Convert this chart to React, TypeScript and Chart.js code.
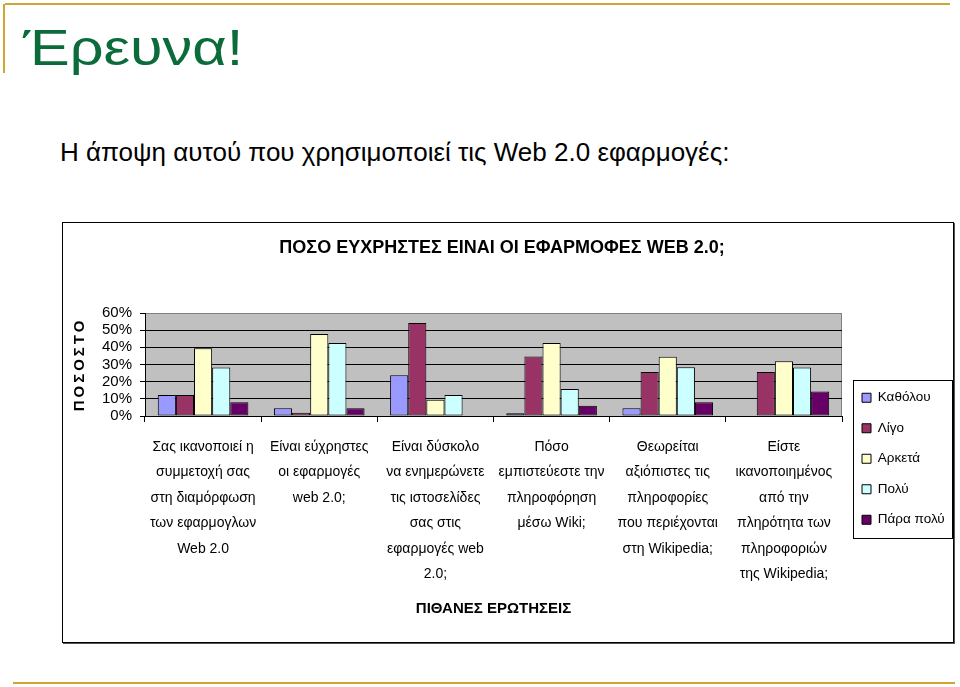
import React, { useEffect, useRef } from 'react';
import { Chart, registerables, LinearScale } from 'chart.js';

Chart.register(...registerables);

class SpacedLinearScale extends LinearScale {
  static id = 'spacedLinear';
  static defaults = LinearScale.defaults;
  drawTitle() {
    const ctx: any = this.ctx;
    ctx.save();
    ctx.letterSpacing = '3px';
    // @ts-ignore
    super.drawTitle();
    ctx.restore();
  }
}
Chart.register(SpacedLinearScale as any);

// ---- data ----
const categories: string[][] = [
  ['Σας ικανοποιεί η', 'συμμετοχή σας', 'στη διαμόρφωση', 'των εφαρμογλων', 'Web 2.0'],
  ['Είναι εύχρηστες', 'οι εφαρμογές', 'web 2.0;'],
  ['Είναι δύσκολο', 'να ενημερώνετε', 'τις ιστοσελίδες', 'σας στις', 'εφαρμογές web', '2.0;'],
  ['Πόσο', 'εμπιστεύεστε την', 'πληροφόρηση', 'μέσω Wiki;'],
  ['Θεωρείται', 'αξιόπιστες τις', 'πληροφορίες', 'που περιέχονται', 'στη Wikipedia;'],
  ['Είστε', 'ικανοποιημένος', 'από την', 'πληρότητα των', 'πληροφοριών', 'της Wikipedia;'],
];
const seriesNames = ['Καθόλου', 'Λίγο', 'Αρκετά', 'Πολύ', 'Πάρα πολύ'];
const katholou = [12.3, 4.5, 23.8, 1.6, 4.5, 0];
const ligo = [12.3, 1.9, 54.2, 34.7, 25.7, 25.7];
const arketa = [39.5, 47.7, 9.4, 42.5, 34.5, 31.9];
const poly = [28.2, 42.5, 12.3, 15.8, 28.4, 28.2];
const paraPoly = [8.0, 4.5, 0, 6.0, 8.0, 14.2];
const seriesColors = ['#9999FF', '#993366', '#FFFFCC', '#CCFFFF', '#660066'];
const yTicks = [0, 10, 20, 30, 40, 50, 60];

const chartTitle = 'ΠΟΣΟ ΕΥΧΡΗΣΤΕΣ ΕΙΝΑΙ ΟΙ ΕΦΑΡΜΟΦΕΣ WEB 2.0;';
const yTitle = 'ΠΟΣΟΣΤΟ';
const xTitle = 'ΠΙΘΑΝΕΣ ΕΡΩΤΗΣΕΙΣ';

const SANS = "'Liberation Sans', Arial, sans-serif";

const CW = 892;
const CH = 421;

function ChartCanvas() {
  const ref = useRef<HTMLCanvasElement | null>(null);
  useEffect(() => {
    if (!ref.current) return;
    const values = [katholou, ligo, arketa, poly, paraPoly];
    const legPad = 17;

    const plotBg = {
      id: 'plotBg',
      beforeDraw(chart: any) {
        const { ctx, chartArea: a } = chart;
        ctx.save();
        ctx.fillStyle = '#C0C0C0';
        ctx.fillRect(a.left, a.top, a.right - a.left, a.bottom - a.top);
        ctx.strokeStyle = '#808080';
        ctx.lineWidth = 1;
        ctx.beginPath();
        ctx.moveTo(Math.round(a.right) - 0.5, a.top);
        ctx.lineTo(Math.round(a.right) - 0.5, a.bottom);
        ctx.stroke();
        ctx.restore();
      },
    };

    const legendPlace = {
      id: 'legendPlace',
      afterLayout(chart: any) {
        const lg = chart.legend;
        const a = chart.chartArea;
        const dx = a.right + 20 - legPad - lg.left;
        lg.left += dx;
        lg.right += dx;
        lg.top = a.bottom - 25 - legPad;
        lg.bottom = chart.height;
      },
      afterDraw(chart: any) {
        const lg = chart.legend;
        const ctx = chart.ctx;
        const x = Math.round(lg.left + legPad - 9) + 0.5;
        const y = Math.round(lg.top + legPad - 11) + 0.5;
        ctx.save();
        ctx.strokeStyle = '#000';
        ctx.lineWidth = 1;
        ctx.strokeRect(x, y, 99, 158);
        ctx.restore();
      },
    };

    const chart = new Chart(ref.current, {
      type: 'bar',
      data: {
        labels: categories,
        datasets: seriesNames.map((name, i) => ({
          label: name,
          data: values[i],
          backgroundColor: seriesColors[i],
          borderColor: '#000000',
          borderWidth: 1,
          borderSkipped: false,
          categoryPercentage: 0.78,
          barPercentage: 1,
        })),
      },
      options: {
        animation: false,
        responsive: false,
        maintainAspectRatio: false,
        events: [],
        layout: { padding: { left: 0, right: 12, top: 0, bottom: 0 } },
        plugins: {
          tooltip: { enabled: false },
          title: {
            display: true,
            text: chartTitle,
            color: '#000',
            font: { family: SANS, size: 18, weight: 'bold', lineHeight: 1.2 },
            padding: { top: 15.2, bottom: 54.2 },
          },
          legend: {
            display: true,
            position: 'right',
            align: 'start',
            maxWidth: 100,
            labels: {
              color: '#000',
              boxWidth: 9,
              boxHeight: 9,
              padding: legPad,
              font: { family: SANS, size: 13.5 },
            },
          },
        },
        scales: {
          x: {
            type: 'category',
            offset: true,
            grid: {
              display: true,
              drawOnChartArea: false,
              drawTicks: true,
              tickLength: 6,
              color: '#000',
              offset: true,
            },
            border: { display: true, color: '#000', width: 1 },
            ticks: {
              color: '#000',
              autoSkip: false,
              maxRotation: 0,
              minRotation: 0,
              padding: 12,
              font: { family: SANS, size: 14, lineHeight: 25.5 / 14 },
            },
            title: {
              display: true,
              text: xTitle,
              color: '#000',
              font: { family: SANS, size: 15, weight: 'bold', lineHeight: 1.2 },
              padding: { top: 0, bottom: 25 },
            },
            afterFit(scale: any) {
              scale.height = 227;
            },
          },
          y: {
            type: 'spacedLinear' as any,
            min: 0,
            max: 60,
            afterBuildTicks(scale: any) {
              scale.ticks = yTicks.map((v) => ({ value: v }));
            },
            grid: {
              color: (c: any) => (c.tick && c.tick.value === 60 ? '#808080' : '#000000'),
              tickColor: '#000',
              tickLength: 5,
              drawTicks: true,
              lineWidth: 1,
            },
            border: { display: true, color: '#000', width: 1 },
            ticks: {
              color: '#000',
              padding: 8,
              autoSkip: false,
              font: { family: SANS, size: 15 },
              callback: (v: any) => v + '%',
            },
            title: {
              display: true,
              text: yTitle,
              color: '#000',
              font: { family: SANS, size: 15, weight: 'bold', lineHeight: 1.2 },
              padding: { top: 9, bottom: 0 },
            },
            afterFit(scale: any) {
              scale.width = 83;
            },
          },
        },
      } as any,
      plugins: [plotBg, legendPlace],
    });
    return () => chart.destroy();
  }, []);
  return <canvas ref={ref} width={CW} height={CH} style={{ position: 'absolute', left: 62, top: 222, width: CW, height: CH }} />;
}

export default function App() {
  const gold = '#CFA630';
  return (
    <div style={{ position: 'absolute', left: 0, top: 0, width: 960, height: 687, background: '#fff', overflow: 'hidden', fontFamily: SANS }}>
      <div style={{ position: 'absolute', left: 5, top: 3, width: 945, height: 2, background: gold }} />
      <div style={{ position: 'absolute', left: 3, top: 4, width: 2, height: 69, background: gold }} />
      <div style={{ position: 'absolute', left: 23, top: 23, fontSize: 50, lineHeight: 1, color: '#0B6B3A', whiteSpace: 'nowrap', transform: 'scaleX(1.19)', transformOrigin: 'left top' }}>Έρευνα!</div>
      <div style={{ position: 'absolute', left: 60, top: 139, fontSize: 26, lineHeight: 1, color: '#000', whiteSpace: 'nowrap' }}>
        Η άποψη αυτού που χρησιμοποιεί τις Web 2.0 εφαρμογές:
      </div>
      <ChartCanvas />
      <div style={{ position: 'absolute', left: 62, top: 222, width: 890, height: 419, border: '1px solid #000', boxShadow: '1px 1px 0 #555', pointerEvents: 'none' }} />
      <div style={{ position: 'absolute', left: 13, top: 682, width: 942, height: 2, background: gold }} />
    </div>
  );
}
